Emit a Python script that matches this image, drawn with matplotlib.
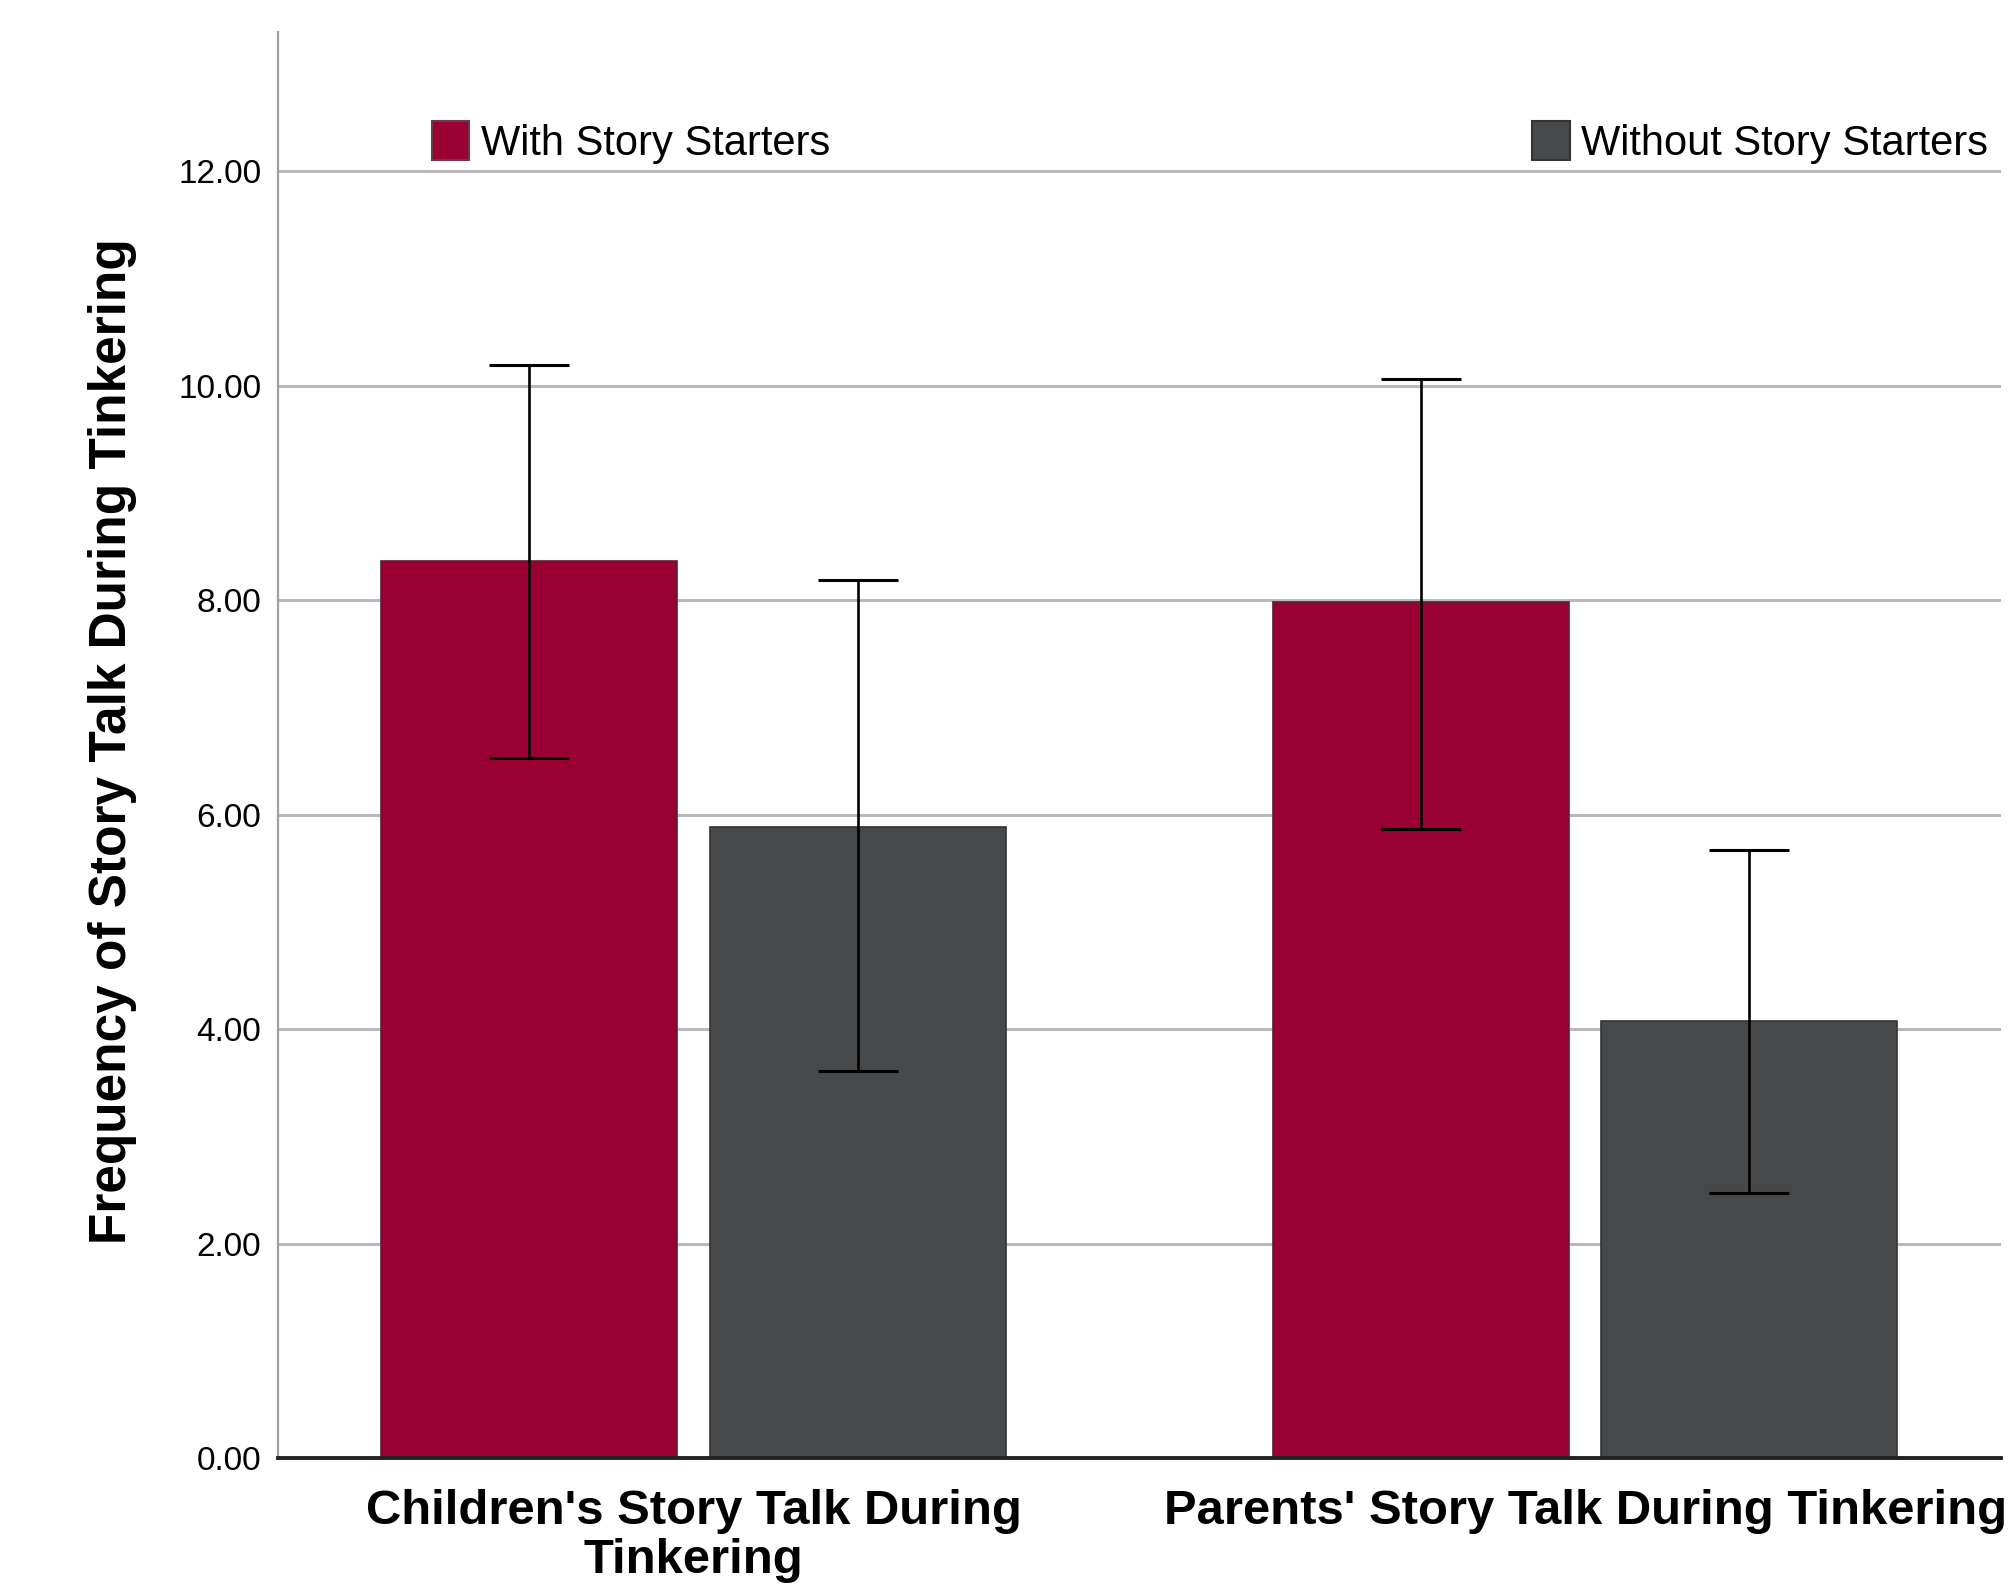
import numpy as np
import matplotlib.pyplot as plt
from matplotlib.patches import Patch

# values
groups = ["Children's Story Talk During\nTinkering", "Parents' Story Talk During Tinkering"]
series = ["With Story Starters", "Without Story Starters"]
with_means = [8.37, 7.98]
with_lo = [6.53, 5.87]
with_hi = [10.19, 10.06]
without_means = [5.89, 4.08]
without_lo = [3.61, 2.47]
without_hi = [8.19, 5.67]
yticks = [0, 2, 4, 6, 8, 10, 12]

red = "#990033"
grey = "#47484a"

plt.rcParams["font.family"] = ["Liberation Sans", "DejaVu Sans"]

fig = plt.figure(figsize=(20.11, 15.85), dpi=100)
ax = fig.add_axes([0.1382, 0.0801, 0.8568, 0.8997])

x = np.arange(len(groups))
offset = 0.184
width = 0.332

for xs, means, lo, hi, color, edge in [
    (x - offset, with_means, with_lo, with_hi, red, "#5e1f33"),
    (x + offset, without_means, without_lo, without_hi, grey, "#333436"),
]:
    ax.bar(xs, means, width=width, color=color, edgecolor=edge, linewidth=1.2, zorder=2)
    means = np.array(means)
    yerr = [means - np.array(lo), np.array(hi) - means]
    ax.errorbar(xs, means, yerr=yerr, fmt="none", ecolor="black",
                elinewidth=1.9, capsize=28.8, capthick=2.2, zorder=3)

ax.set_xlim(-0.466, 1.466)
ax.set_ylim(0, 13.3)
ax.set_yticks(yticks)
ax.set_yticklabels([f"{v:.2f}" for v in yticks], fontsize=24)
ax.set_xticks(x)
ax.set_xticklabels(groups, fontsize=35.3, fontweight="bold", linespacing=1.12)
ax.tick_params(axis="x", length=0, pad=22)
ax.tick_params(axis="y", length=0, pad=12)

for v in yticks[1:]:
    ax.axhline(v, color="#b9b9b9", linewidth=2.2, zorder=1)

for side in ["top", "right"]:
    ax.spines[side].set_visible(False)
ax.spines["left"].set_color("#a0a0a0")
ax.spines["left"].set_linewidth(1.6)
ax.spines["bottom"].set_color("#222222")
ax.spines["bottom"].set_linewidth(2.8)
ax.spines["bottom"].set_zorder(4)

ax.set_ylabel("Frequency of Story Talk During Tinkering", fontsize=37, fontweight="bold")
ax.yaxis.set_label_coords(-0.082, 0.503)

leg_kw = dict(loc="center left", frameon=False, fontsize=30, borderpad=0,
              borderaxespad=0, handlelength=0.9, handleheight=1.05, handletextpad=0.27)
leg1 = ax.legend(handles=[Patch(facecolor=red, edgecolor="#6b3a4a", linewidth=1.5)],
                 labels=[series[0]], bbox_to_anchor=(0.0894, 0.9225), **leg_kw)
ax.add_artist(leg1)
ax.legend(handles=[Patch(facecolor=grey, edgecolor="#333436", linewidth=1.5)],
          labels=[series[1]], bbox_to_anchor=(0.728, 0.9225), **leg_kw)

fig.savefig("out.png", dpi=100)
